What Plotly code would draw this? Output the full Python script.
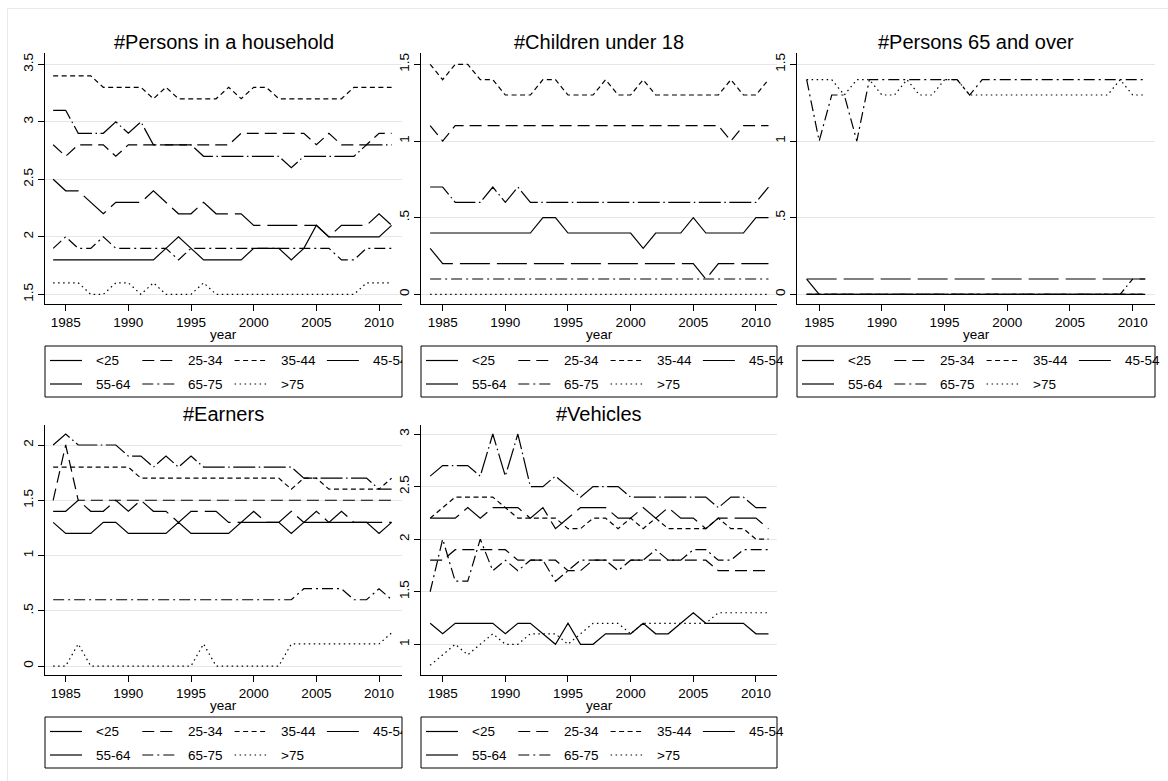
import plotly.graph_objects as go

W, H = 1168, 781
FONT = "Liberation Sans, Arial, Helvetica, sans-serif"

years = list(range(1984, 2012))
age_groups = ["<25", "25-34", "35-44", "45-54", "55-64", "65-75", ">75"]
year_ticks = [1985, 1990, 1995, 2000, 2005, 2010]

# ---- #Persons in a household, by age of householder ----
hh_lt25 = [1.8, 1.8, 1.8, 1.8, 1.8, 1.8, 1.8, 1.8, 1.8, 1.9, 2.0, 1.9, 1.8, 1.8,
           1.8, 1.8, 1.9, 1.9, 1.9, 1.8, 1.9, 2.1, 2.0, 2.0, 2.0, 2.0, 2.0, 2.1]
hh_25_34 = [2.8, 2.7, 2.8, 2.8, 2.8, 2.7, 2.8, 2.8, 2.8, 2.8, 2.8, 2.8, 2.8, 2.8,
            2.8, 2.9, 2.9, 2.9, 2.9, 2.9, 2.9, 2.8, 2.9, 2.8, 2.8, 2.8, 2.9, 2.9]
hh_35_44 = [3.4, 3.4, 3.4, 3.4, 3.3, 3.3, 3.3, 3.3, 3.2, 3.3, 3.2, 3.2, 3.2, 3.2,
            3.3, 3.2, 3.3, 3.3, 3.2, 3.2, 3.2, 3.2, 3.2, 3.2, 3.3, 3.3, 3.3, 3.3]
hh_45_54 = [3.1, 3.1, 2.9, 2.9, 2.9, 3.0, 2.9, 3.0, 2.8, 2.8, 2.8, 2.8, 2.7, 2.7,
            2.7, 2.7, 2.7, 2.7, 2.7, 2.6, 2.7, 2.7, 2.7, 2.7, 2.7, 2.8, 2.8, 2.8]
hh_55_64 = [2.5, 2.4, 2.4, 2.3, 2.2, 2.3, 2.3, 2.3, 2.4, 2.3, 2.2, 2.2, 2.3, 2.2,
            2.2, 2.2, 2.1, 2.1, 2.1, 2.1, 2.1, 2.1, 2.0, 2.1, 2.1, 2.1, 2.2, 2.1]
hh_65_75 = [1.9, 2.0, 1.9, 1.9, 2.0, 1.9, 1.9, 1.9, 1.9, 1.9, 1.8, 1.9, 1.9, 1.9,
            1.9, 1.9, 1.9, 1.9, 1.9, 1.9, 1.9, 1.9, 1.9, 1.8, 1.8, 1.9, 1.9, 1.9]
hh_gt75 = [1.6, 1.6, 1.6, 1.5, 1.5, 1.6, 1.6, 1.5, 1.6, 1.5, 1.5, 1.5, 1.6, 1.5,
           1.5, 1.5, 1.5, 1.5, 1.5, 1.5, 1.5, 1.5, 1.5, 1.5, 1.5, 1.6, 1.6, 1.6]
hh_ticks = ["1.5", "2", "2.5", "3", "3.5"]

# ---- #Children under 18 ----
kids_lt25 = [0.4, 0.4, 0.4, 0.4, 0.4, 0.4, 0.4, 0.4, 0.4, 0.5, 0.5, 0.4, 0.4, 0.4,
             0.4, 0.4, 0.4, 0.3, 0.4, 0.4, 0.4, 0.5, 0.4, 0.4, 0.4, 0.4, 0.5, 0.5]
kids_25_34 = [1.1, 1.0, 1.1, 1.1, 1.1, 1.1, 1.1, 1.1, 1.1, 1.1, 1.1, 1.1, 1.1, 1.1,
              1.1, 1.1, 1.1, 1.1, 1.1, 1.1, 1.1, 1.1, 1.1, 1.1, 1.0, 1.1, 1.1, 1.1]
kids_35_44 = [1.5, 1.4, 1.5, 1.5, 1.4, 1.4, 1.3, 1.3, 1.3, 1.4, 1.4, 1.3, 1.3, 1.3,
              1.4, 1.3, 1.3, 1.4, 1.3, 1.3, 1.3, 1.3, 1.3, 1.3, 1.4, 1.3, 1.3, 1.4]
kids_45_54 = [0.7, 0.7, 0.6, 0.6, 0.6, 0.7, 0.6, 0.7, 0.6, 0.6, 0.6, 0.6, 0.6, 0.6,
              0.6, 0.6, 0.6, 0.6, 0.6, 0.6, 0.6, 0.6, 0.6, 0.6, 0.6, 0.6, 0.6, 0.7]
kids_55_64 = [0.3, 0.2, 0.2, 0.2, 0.2, 0.2, 0.2, 0.2, 0.2, 0.2, 0.2, 0.2, 0.2, 0.2,
              0.2, 0.2, 0.2, 0.2, 0.2, 0.2, 0.2, 0.2, 0.1, 0.2, 0.2, 0.2, 0.2, 0.2]
kids_65_75 = [0.1] * 28
kids_gt75 = [0.0] * 28
kids_ticks = ["0", ".5", "1", "1.5"]

# ---- #Persons 65 and over ----
old_lt25 = [0.0] * 28
old_25_34 = [0.0] * 28
old_35_44 = [0.0] * 28
old_45_54 = [0.1, 0.0, 0.0, 0.0, 0.0, 0.0, 0.0, 0.0, 0.0, 0.0, 0.0, 0.0, 0.0, 0.0,
             0.0, 0.0, 0.0, 0.0, 0.0, 0.0, 0.0, 0.0, 0.0, 0.0, 0.0, 0.0, 0.1, 0.1]
old_55_64 = [0.1] * 28
old_65_75 = [1.4, 1.0, 1.3, 1.3, 1.0, 1.4, 1.4, 1.4, 1.4, 1.4, 1.4, 1.4, 1.4, 1.3,
             1.4, 1.4, 1.4, 1.4, 1.4, 1.4, 1.4, 1.4, 1.4, 1.4, 1.4, 1.4, 1.4, 1.4]
old_gt75 = [1.4, 1.4, 1.4, 1.3, 1.4, 1.4, 1.3, 1.3, 1.4, 1.3, 1.3, 1.4, 1.4, 1.3,
            1.3, 1.3, 1.3, 1.3, 1.3, 1.3, 1.3, 1.3, 1.3, 1.3, 1.3, 1.4, 1.3, 1.3]
old_ticks = ["0", ".5", "1", "1.5"]

# ---- #Earners ----
earn_lt25 = [1.3, 1.2, 1.2, 1.2, 1.3, 1.3, 1.2, 1.2, 1.2, 1.2, 1.3, 1.2, 1.2, 1.2,
             1.2, 1.3, 1.3, 1.3, 1.3, 1.2, 1.3, 1.3, 1.3, 1.3, 1.3, 1.3, 1.2, 1.3]
earn_25_34 = [1.5, 2.0, 1.5, 1.5, 1.5, 1.5, 1.5, 1.5, 1.5, 1.5, 1.5, 1.5, 1.5, 1.5,
              1.5, 1.5, 1.5, 1.5, 1.5, 1.5, 1.5, 1.5, 1.5, 1.5, 1.5, 1.5, 1.5, 1.5]
earn_35_44 = [1.8, 1.8, 1.8, 1.8, 1.8, 1.8, 1.8, 1.7, 1.7, 1.7, 1.7, 1.7, 1.7, 1.7,
              1.7, 1.7, 1.7, 1.7, 1.7, 1.6, 1.7, 1.7, 1.6, 1.6, 1.6, 1.6, 1.6, 1.7]
earn_45_54 = [2.0, 2.1, 2.0, 2.0, 2.0, 2.0, 1.9, 1.9, 1.8, 1.9, 1.8, 1.9, 1.8, 1.8,
              1.8, 1.8, 1.8, 1.8, 1.8, 1.8, 1.7, 1.7, 1.7, 1.7, 1.7, 1.7, 1.6, 1.6]
earn_55_64 = [1.4, 1.4, 1.5, 1.4, 1.4, 1.5, 1.4, 1.5, 1.4, 1.4, 1.3, 1.4, 1.4, 1.4,
              1.3, 1.3, 1.4, 1.3, 1.3, 1.4, 1.3, 1.4, 1.3, 1.4, 1.3, 1.3, 1.3, 1.3]
earn_65_75 = [0.6, 0.6, 0.6, 0.6, 0.6, 0.6, 0.6, 0.6, 0.6, 0.6, 0.6, 0.6, 0.6, 0.6,
              0.6, 0.6, 0.6, 0.6, 0.6, 0.6, 0.7, 0.7, 0.7, 0.7, 0.6, 0.6, 0.7, 0.6]
earn_gt75 = [0.0, 0.0, 0.2, 0.0, 0.0, 0.0, 0.0, 0.0, 0.0, 0.0, 0.0, 0.0, 0.2, 0.0,
             0.0, 0.0, 0.0, 0.0, 0.0, 0.2, 0.2, 0.2, 0.2, 0.2, 0.2, 0.2, 0.2, 0.3]
earn_ticks = ["0", ".5", "1", "1.5", "2"]

# ---- #Vehicles ----
veh_lt25 = [1.2, 1.1, 1.2, 1.2, 1.2, 1.2, 1.1, 1.2, 1.2, 1.1, 1.0, 1.2, 1.0, 1.0,
            1.1, 1.1, 1.1, 1.2, 1.1, 1.1, 1.2, 1.3, 1.2, 1.2, 1.2, 1.2, 1.1, 1.1]
veh_25_34 = [1.8, 1.8, 1.9, 1.9, 1.9, 1.9, 1.9, 1.8, 1.8, 1.8, 1.8, 1.7, 1.7, 1.8,
             1.8, 1.8, 1.8, 1.8, 1.8, 1.8, 1.8, 1.8, 1.8, 1.7, 1.7, 1.7, 1.7, 1.7]
veh_35_44 = [2.2, 2.3, 2.4, 2.4, 2.4, 2.4, 2.3, 2.2, 2.2, 2.2, 2.2, 2.1, 2.1, 2.2,
             2.2, 2.1, 2.2, 2.1, 2.2, 2.1, 2.1, 2.1, 2.1, 2.2, 2.1, 2.1, 2.0, 2.0]
veh_45_54 = [2.6, 2.7, 2.7, 2.7, 2.6, 3.0, 2.6, 3.0, 2.5, 2.5, 2.6, 2.5, 2.4, 2.5,
             2.5, 2.5, 2.4, 2.4, 2.4, 2.4, 2.4, 2.4, 2.4, 2.3, 2.4, 2.4, 2.3, 2.3]
veh_55_64 = [2.2, 2.2, 2.2, 2.3, 2.2, 2.3, 2.3, 2.3, 2.2, 2.3, 2.1, 2.2, 2.3, 2.3,
             2.3, 2.2, 2.2, 2.3, 2.2, 2.3, 2.2, 2.2, 2.1, 2.2, 2.2, 2.2, 2.2, 2.1]
veh_65_75 = [1.5, 2.0, 1.6, 1.6, 2.0, 1.7, 1.8, 1.7, 1.8, 1.8, 1.6, 1.7, 1.8, 1.8,
             1.8, 1.7, 1.8, 1.8, 1.9, 1.8, 1.8, 1.9, 1.9, 1.8, 1.8, 1.9, 1.9, 1.9]
veh_gt75 = [0.8, 0.9, 1.0, 0.9, 1.0, 1.1, 1.0, 1.0, 1.1, 1.1, 1.1, 1.0, 1.1, 1.2,
            1.2, 1.2, 1.1, 1.2, 1.2, 1.2, 1.2, 1.2, 1.2, 1.3, 1.3, 1.3, 1.3, 1.3]
veh_ticks = ["1", "1.5", "2", "2.5", "3"]

# Line pattern for each age group (solid, dash, shortdash, longdash-dot,
# longdash, dash-dot, dot)
patterns = ["solid", "12px,6px", "5px,3.5px", "22px,3.5px,1.5px,3.5px",
            "30px,7px", "11px,4px,2px,4px", "1.5px,3.5px"]
# The short legend keys only show the first stretch of each pattern
key_patterns = ["solid", "12px,6px", "5px,3.5px", "solid",
                "solid", "11px,4px,2px,4px", "1.5px,3.5px"]

# Pixel boxes of the plot regions (left, top, right, bottom)
panels = [
    dict(title="#Persons in a household", box=(45, 53, 402, 304),
         xr=(1983.35, 2011.83), yr=(1.416, 3.598), ticks=hh_ticks,
         series=[hh_lt25, hh_25_34, hh_35_44, hh_45_54, hh_55_64, hh_65_75, hh_gt75],
         leg_top=346, clip_last=True),
    dict(title="#Children under 18", box=(421, 53, 777, 304),
         xr=(1983.27, 2011.68), yr=(-0.063, 1.574), ticks=kids_ticks,
         series=[kids_lt25, kids_25_34, kids_35_44, kids_45_54, kids_55_64, kids_65_75, kids_gt75],
         leg_top=346, clip_last=False),
    dict(title="#Persons 65 and over", box=(797, 53, 1155, 304),
         xr=(1983.23, 2011.78), yr=(-0.063, 1.574), ticks=old_ticks,
         series=[old_lt25, old_25_34, old_35_44, old_45_54, old_55_64, old_65_75, old_gt75],
         leg_top=346, clip_last=False),
    dict(title="#Earners", box=(45, 425, 402, 675),
         xr=(1983.35, 2011.83), yr=(-0.081, 2.181), ticks=earn_ticks,
         series=[earn_lt25, earn_25_34, earn_35_44, earn_45_54, earn_55_64, earn_65_75, earn_gt75],
         leg_top=717, clip_last=True),
    dict(title="#Vehicles", box=(421, 425, 777, 675),
         xr=(1983.27, 2011.68), yr=(0.708, 3.086), ticks=veh_ticks,
         series=[veh_lt25, veh_25_34, veh_35_44, veh_45_54, veh_55_64, veh_65_75, veh_gt75],
         leg_top=717, clip_last=False),
]


def fx(px):
    return px / W


def fy(py):
    return 1 - py / H


fig = go.Figure()
shapes, annots = [], []
layout = dict(
    width=W, height=H, autosize=False,
    margin=dict(l=0, r=0, t=0, b=0, pad=0),
    paper_bgcolor="white", plot_bgcolor="white",
    showlegend=False,
    font=dict(family=FONT, size=13.5, color="black"),
)

for i, p in enumerate(panels, start=1):
    left, top, right, bottom = p["box"]
    sx = "" if i == 1 else str(i)
    layout["xaxis" + sx] = dict(
        domain=[fx(left), fx(right)], anchor="y" + sx, range=list(p["xr"]),
        tickmode="array", tickvals=year_ticks, ticktext=[str(t) for t in year_ticks],
        ticks="outside", ticklen=6, tickwidth=1, tickcolor="black",
        showline=True, linecolor="black", linewidth=1,
        showgrid=False, zeroline=False, fixedrange=True,
        tickfont=dict(family=FONT, size=13.5, color="black"),
    )
    layout["yaxis" + sx] = dict(
        domain=[fy(bottom), fy(top)], anchor="x" + sx, range=list(p["yr"]),
        tickmode="array", tickvals=[float(t) for t in p["ticks"]], ticktext=p["ticks"],
        tickangle=-90, ticks="outside", ticklen=6, tickwidth=1, tickcolor="black",
        showline=True, linecolor="black", linewidth=1,
        showgrid=True, gridcolor="#e6e6e6", gridwidth=1, zeroline=False,
        fixedrange=True,
        tickfont=dict(family=FONT, size=13.5, color="black"),
    )

    for vals, dash, name in zip(p["series"], patterns, age_groups):
        fig.add_trace(go.Scatter(
            x=years, y=vals, mode="lines", name=name,
            line=dict(color="black", width=1.2, dash=dash),
            xaxis="x" + sx, yaxis="y" + sx, hoverinfo="skip", showlegend=False,
        ))

    # panel title and x-axis title
    cx = (left + right) / 2
    annots.append(dict(text=p["title"], x=fx(cx), y=fy(top - 11), xref="paper", yref="paper",
                       xanchor="center", yanchor="middle", showarrow=False,
                       font=dict(family=FONT, size=20, color="black")))
    annots.append(dict(text="year", x=fx(cx), y=fy(bottom + 30), xref="paper", yref="paper",
                       xanchor="center", yanchor="middle", showarrow=False,
                       font=dict(family=FONT, size=13.5, color="black")))

    # legend box below each panel
    lt = p["leg_top"]
    lb = lt + 51
    shapes.append(dict(type="rect", xref="paper", yref="paper",
                       x0=fx(left), x1=fx(right), y0=fy(lb), y1=fy(lt),
                       line=dict(color="black", width=1), fillcolor="rgba(0,0,0,0)"))
    row_y = [lt + 14.5, lt + 38]
    for k, (name, dash) in enumerate(zip(age_groups, key_patterns)):
        r, c = divmod(k, 4)
        sx0 = left + 5 + 92.3 * c
        ty = row_y[r]
        shapes.append(dict(type="line", xref="paper", yref="paper",
                           x0=fx(sx0), x1=fx(sx0 + 32), y0=fy(ty), y1=fy(ty),
                           line=dict(color="black", width=1.2, dash=dash)))
        tx = left + 50 + 92.3 * c
        ann = dict(text=name, x=fx(tx), y=fy(ty), xref="paper", yref="paper",
                   xanchor="left", yanchor="middle", showarrow=False, align="left",
                   borderpad=0, font=dict(family=FONT, size=13.5, color="black"))
        if c == 3 and p["clip_last"]:
            ann["width"] = right - tx - 1
        annots.append(ann)

# faint outer frame of the graph region
shapes.append(dict(type="line", xref="paper", yref="paper", x0=fx(7.5), x1=1,
                   y0=fy(8.5), y1=fy(8.5), line=dict(color="#e9e9e9", width=1)))
shapes.append(dict(type="line", xref="paper", yref="paper", x0=fx(7.5), x1=fx(7.5),
                   y0=0, y1=fy(8.5), line=dict(color="#e9e9e9", width=1)))

layout["shapes"] = shapes
layout["annotations"] = annots
fig.update_layout(**layout)
fig.write_html("out.html")
